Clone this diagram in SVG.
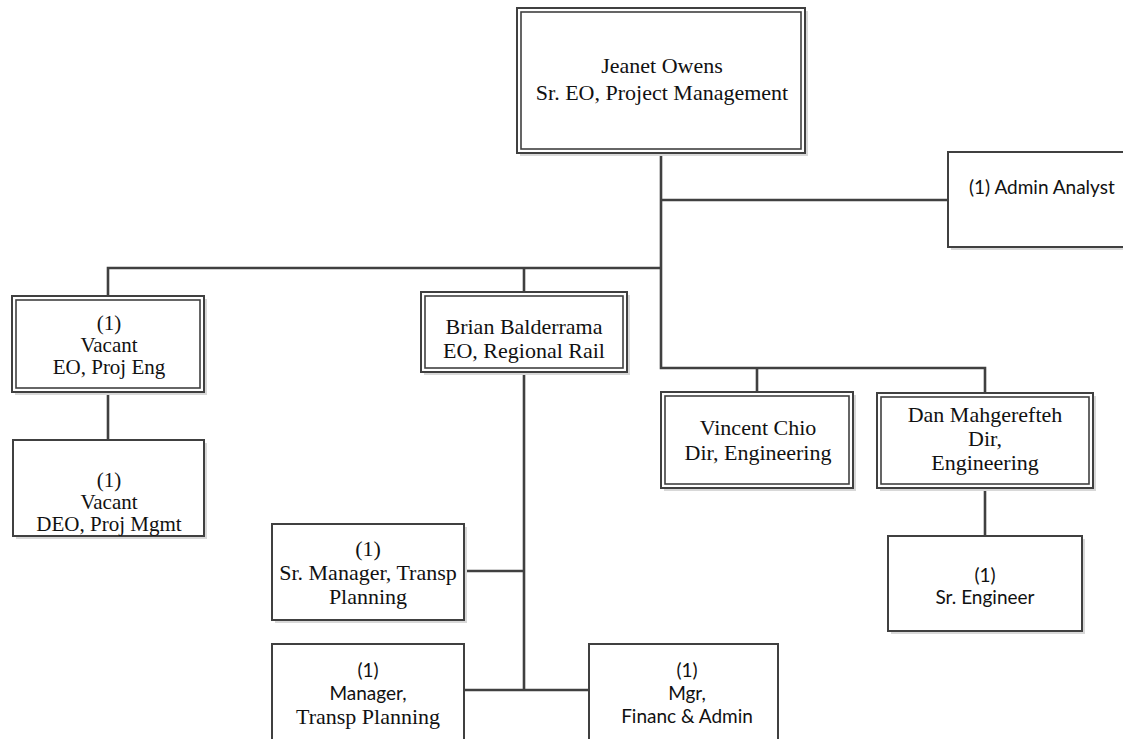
<svg xmlns="http://www.w3.org/2000/svg" width="1123" height="739" viewBox="0 0 1123 739">
<style>
.bg{fill:#ffffff}
.sh{fill:#d8d8d8}
.box{fill:#ffffff;stroke:#404040;stroke-width:2}
.inner{fill:none;stroke:#404040;stroke-width:1.6}
.conn{fill:none;stroke:#404040;stroke-width:2.6}
.serif{font-family:"Liberation Serif","Times New Roman",serif;font-size:22px;fill:#111;text-anchor:middle}
.s21{font-size:21px}
.sans{font-family:Lato,"Liberation Sans",sans-serif;font-size:19px;fill:#111;text-anchor:middle}
</style>
<rect class="bg" x="0" y="0" width="1123" height="739"/>
<g id="connectors">
<path class="conn" d="M661,152 V368 H985 V393 M757,368 V392"/>
<path class="conn" d="M661,200 H948"/>
<path class="conn" d="M108,296 V268 H661 M524,268 V292"/>
<path class="conn" d="M108,392 V440"/>
<path class="conn" d="M524,372 V690 M464,571 H524 M464,690 H589"/>
<path class="conn" d="M985,488 V536"/>
</g>
<g id="n-jeanet">
<rect class="sh" x="520" y="11" width="288" height="145"/>
<rect class="box" x="517" y="8" width="288" height="145"/>
<rect class="inner" x="521" y="12" width="280" height="137"/>
<text class="serif" x="662" y="73">Jeanet Owens</text>
<text class="serif" x="662" y="100">Sr. EO, Project Management</text>
</g>
<g id="n-admin">
<rect class="sh" x="951" y="155" width="180" height="95"/>
<rect class="box" x="948" y="152" width="180" height="95"/>
<text class="sans" x="969" y="194" style="text-anchor:start">(1) Admin Analyst</text>
</g>
<g id="n-vacant-eo">
<rect class="sh" x="15" y="299" width="192" height="96"/>
<rect class="box" x="12" y="296" width="192" height="96"/>
<rect class="inner" x="16" y="300" width="184" height="88"/>
<text class="serif s21" x="109" y="330">(1)</text>
<text class="serif s21" x="109" y="352">Vacant</text>
<text class="serif s21" x="109" y="374">EO, Proj Eng</text>
</g>
<g id="n-vacant-deo">
<rect class="sh" x="16" y="443" width="191" height="96"/>
<rect class="box" x="13" y="440" width="191" height="96"/>
<text class="serif s21" x="109" y="487">(1)</text>
<text class="serif s21" x="109" y="509">Vacant</text>
<text class="serif s21" x="109" y="531">DEO, Proj Mgmt</text>
</g>
<g id="n-brian">
<rect class="sh" x="424" y="295" width="206" height="80"/>
<rect class="box" x="421" y="292" width="206" height="80"/>
<rect class="inner" x="425" y="296" width="198" height="72"/>
<text class="serif" x="524" y="334">Brian Balderrama</text>
<text class="serif" x="524" y="358">EO, Regional Rail</text>
</g>
<g id="n-vincent">
<rect class="sh" x="664" y="395" width="192" height="96"/>
<rect class="box" x="661" y="392" width="192" height="96"/>
<rect class="inner" x="665" y="396" width="184" height="88"/>
<text class="serif" x="758" y="435">Vincent Chio</text>
<text class="serif" x="758" y="460">Dir, Engineering</text>
</g>
<g id="n-dan">
<rect class="sh" x="880" y="396" width="216" height="95"/>
<rect class="box" x="877" y="393" width="216" height="95"/>
<rect class="inner" x="881" y="397" width="208" height="87"/>
<text class="serif" x="985" y="422">Dan Mahgerefteh</text>
<text class="serif" x="985" y="446">Dir,</text>
<text class="serif" x="985" y="470">Engineering</text>
</g>
<g id="n-sr-manager">
<rect class="sh" x="275" y="527" width="192" height="96"/>
<rect class="box" x="272" y="524" width="192" height="96"/>
<text class="serif" x="368" y="556">(1)</text>
<text class="serif" x="368" y="580">Sr. Manager, Transp</text>
<text class="serif" x="368" y="604">Planning</text>
</g>
<g id="n-manager">
<rect class="box" x="272" y="644" width="192" height="110"/>
<text class="sans" x="368" y="677">(1)</text>
<text class="sans" x="368" y="700">Manager,</text>
<text class="serif" x="368" y="724">Transp Planning</text>
</g>
<g id="n-mgr-fin">
<rect class="box" x="589" y="644" width="189" height="110"/>
<text class="sans" x="687" y="677">(1)</text>
<text class="sans" x="687" y="700">Mgr,</text>
<text class="sans" x="687" y="723">Financ &amp; Admin</text>
</g>
<g id="n-sr-engineer">
<rect class="sh" x="891" y="539" width="194" height="95"/>
<rect class="box" x="888" y="536" width="194" height="95"/>
<text class="sans" x="985" y="582">(1)</text>
<text class="sans" x="985" y="604">Sr. Engineer</text>
</g>
</svg>
